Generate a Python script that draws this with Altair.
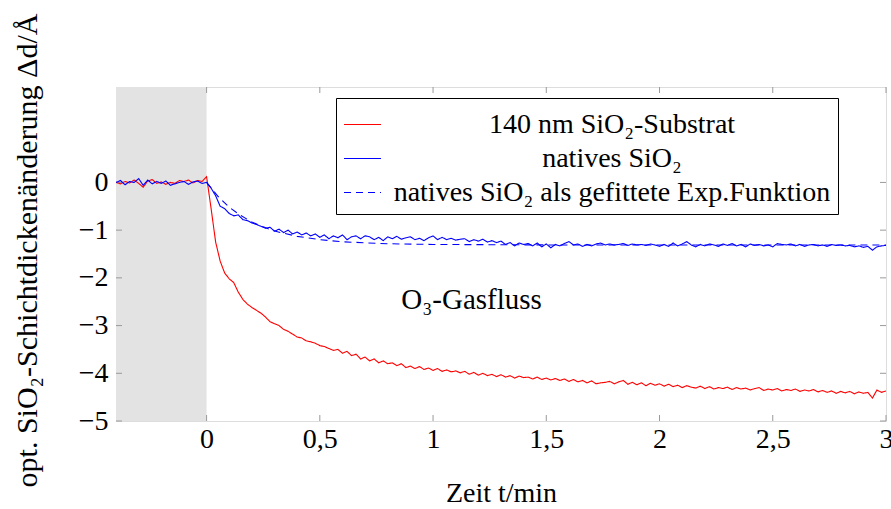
import altair as alt
import pandas as pd

# ---- data ----
t_min = [-0.40, -0.38, -0.36, -0.34, -0.32, -0.30, -0.28, -0.26, -0.24, -0.22,
         -0.20, -0.18, -0.16, -0.14, -0.12, -0.10, -0.08, -0.06, -0.04, -0.02,
         0.00, 0.02, 0.04, 0.06, 0.08, 0.10, 0.12, 0.14, 0.16, 0.18,
         0.20, 0.22, 0.24, 0.26, 0.28, 0.30, 0.32, 0.34, 0.36, 0.38,
         0.40, 0.42, 0.44, 0.46, 0.48, 0.50, 0.52, 0.54, 0.56, 0.58,
         0.60, 0.62, 0.64, 0.66, 0.68, 0.70, 0.72, 0.74, 0.76, 0.78,
         0.80, 0.82, 0.84, 0.86, 0.88, 0.90, 0.92, 0.94, 0.96, 0.98,
         1.00, 1.02, 1.04, 1.06, 1.08, 1.10, 1.12, 1.14, 1.16, 1.18,
         1.20, 1.22, 1.24, 1.26, 1.28, 1.30, 1.32, 1.34, 1.36, 1.38,
         1.40, 1.42, 1.44, 1.46, 1.48, 1.50, 1.52, 1.54, 1.56, 1.58,
         1.60, 1.62, 1.64, 1.66, 1.68, 1.70, 1.72, 1.74, 1.76, 1.78,
         1.80, 1.82, 1.84, 1.86, 1.88, 1.90, 1.92, 1.94, 1.96, 1.98,
         2.00, 2.02, 2.04, 2.06, 2.08, 2.10, 2.12, 2.14, 2.16, 2.18,
         2.20, 2.22, 2.24, 2.26, 2.28, 2.30, 2.32, 2.34, 2.36, 2.38,
         2.40, 2.42, 2.44, 2.46, 2.48, 2.50, 2.52, 2.54, 2.56, 2.58,
         2.60, 2.62, 2.64, 2.66, 2.68, 2.70, 2.72, 2.74, 2.76, 2.78,
         2.80, 2.82, 2.84, 2.86, 2.88, 2.90, 2.92, 2.94, 2.96, 2.98,
         3.00]

substrat_140nm = [0.00, -0.03, 0.02, -0.01, 0.05, -0.02, -0.10, 0.03, 0.06, -0.02,
                  0.01, -0.04, 0.00, -0.02, 0.04, 0.02, 0.05, -0.01, 0.04, 0.02,
                  0.12, -0.55, -1.25, -1.65, -1.90, -2.02, -2.10, -2.30, -2.45, -2.55,
                  -2.62, -2.68, -2.74, -2.82, -2.92, -2.96, -3.00, -3.08, -3.12, -3.18,
                  -3.24, -3.26, -3.32, -3.34, -3.37, -3.42, -3.44, -3.48, -3.52, -3.50,
                  -3.58, -3.54, -3.63, -3.60, -3.70, -3.66, -3.74, -3.70, -3.78, -3.74,
                  -3.80, -3.78, -3.84, -3.80, -3.88, -3.85, -3.90, -3.86, -3.92, -3.89,
                  -3.94, -3.90, -3.96, -3.93, -3.97, -3.95, -3.99, -3.96, -4.02, -3.98,
                  -4.04, -4.00, -4.05, -4.02, -4.07, -4.03, -4.08, -4.05, -4.10, -4.06,
                  -4.09, -4.08, -4.12, -4.08, -4.13, -4.10, -4.14, -4.11, -4.15, -4.12,
                  -4.17, -4.13, -4.18, -4.15, -4.20, -4.16, -4.22, -4.20, -4.19, -4.17,
                  -4.22, -4.18, -4.15, -4.23, -4.19, -4.24, -4.20, -4.26, -4.21, -4.25,
                  -4.22, -4.27, -4.23, -4.28, -4.25, -4.30, -4.26, -4.29, -4.31, -4.27,
                  -4.32, -4.28, -4.33, -4.30, -4.32, -4.29, -4.34, -4.30, -4.33, -4.31,
                  -4.35, -4.32, -4.30, -4.36, -4.33, -4.35, -4.32, -4.37, -4.34, -4.36,
                  -4.33, -4.38, -4.35, -4.37, -4.34, -4.39, -4.36, -4.40, -4.37, -4.42,
                  -4.38, -4.41, -4.38, -4.43, -4.39, -4.42, -4.40, -4.52, -4.35, -4.40,
                  -4.37]

natives_sio2 = [0.00, 0.04, -0.05, 0.02, 0.00, 0.08, -0.06, 0.05, -0.03, 0.02,
                -0.02, 0.03, -0.06, -0.03, 0.00, 0.02, -0.04, 0.01, 0.03, -0.02,
                0.00, -0.12, -0.28, -0.50, -0.55, -0.65, -0.70, -0.68, -0.78, -0.80,
                -0.85, -0.88, -0.92, -0.96, -0.94, -1.02, -0.98, -1.05, -1.00, -1.08,
                -1.04, -1.10, -1.06, -1.12, -1.08, -1.15, -1.10, -1.18, -1.12, -1.16,
                -1.10, -1.20, -1.14, -1.12, -1.18, -1.12, -1.14, -1.20, -1.15, -1.22,
                -1.14, -1.18, -1.13, -1.19, -1.16, -1.14, -1.20, -1.17, -1.22, -1.16,
                -1.12, -1.20, -1.15, -1.20, -1.17, -1.21, -1.19, -1.18, -1.24, -1.20,
                -1.23, -1.19, -1.25, -1.22, -1.26, -1.23, -1.30, -1.26, -1.33, -1.27,
                -1.30, -1.28, -1.33, -1.27, -1.35, -1.29, -1.37, -1.30, -1.33, -1.28,
                -1.24, -1.31, -1.29, -1.34, -1.30, -1.33, -1.29, -1.27, -1.31, -1.29,
                -1.31, -1.30, -1.28, -1.32, -1.29, -1.31, -1.30, -1.32, -1.29, -1.31,
                -1.34, -1.30, -1.34, -1.27, -1.33, -1.29, -1.24, -1.31, -1.35, -1.30,
                -1.33, -1.29, -1.31, -1.34, -1.29, -1.32, -1.28, -1.33, -1.30, -1.35,
                -1.29, -1.32, -1.30, -1.33, -1.31, -1.35, -1.28, -1.30, -1.31, -1.29,
                -1.33, -1.30, -1.34, -1.31, -1.30, -1.33, -1.31, -1.34, -1.30, -1.32,
                -1.31, -1.33, -1.32, -1.35, -1.33, -1.36, -1.34, -1.42, -1.35, -1.33,
                -1.32]

fit_t = [0.00, 0.05, 0.10, 0.15, 0.20, 0.25, 0.30, 0.40, 0.50, 0.60, 0.80, 1.00, 1.50, 2.00, 2.50, 3.00]
fit_values = [0.00, -0.29, -0.52, -0.69, -0.83, -0.93, -1.02, -1.13, -1.20, -1.245, -1.285, -1.30, -1.31, -1.31, -1.31, -1.31]

series_names = ["140 nm SiO\u2082-Substrat", "natives SiO\u2082",
                "natives SiO\u2082 als gefittete Exp.Funktion"]
series_colors = ["#ff0000", "#0000ff", "#0000ff"]
series_dashes = [[1, 0], [1, 0], [7, 5]]

shade_start = [-0.4]
shade_end = [0.0]
x_tick_values = [0, 0.5, 1, 1.5, 2, 2.5, 3]
y_tick_values = [-5, -4, -3, -2, -1, 0]

note_text = ["O\u2083-Gasfluss"]
note_x = [1.17]
note_y = [-2.46]

# ---- build tables ----
rows = []
for t, v in zip(t_min, substrat_140nm):
    rows.append({"t": t, "d": v, "series": series_names[0]})
for t, v in zip(t_min, natives_sio2):
    rows.append({"t": t, "d": v, "series": series_names[1]})
for t, v in zip(fit_t, fit_values):
    rows.append({"t": t, "d": v, "series": series_names[2]})
lines_df = pd.DataFrame(rows)

shade_df = pd.DataFrame({"t": shade_start, "t2": shade_end, "d": [-5], "d2": [2]})
xt_df = pd.DataFrame({"t": x_tick_values})
yt_df = pd.DataFrame({"d": y_tick_values})
note_df = pd.DataFrame({"t": note_x, "d": note_y, "label": note_text})

W, H = 770, 334
FONT = "Times New Roman, Liberation Serif, DejaVu Serif, serif"
xscale = alt.Scale(domain=[-0.4, 3], nice=False, zero=False)
yscale = alt.Scale(domain=[-5, 2], nice=False, zero=False)

x_axis = alt.Axis(values=x_tick_values, ticks=False, domain=False, grid=False,
                  labelExpr="replace(format(datum.value, '~g'), '.', ',')",
                  labelFont=FONT, labelFontSize=28, labelColor="black",
                  labelPadding=4, labelFlush=False,
                  title="Zeit t/min", titleFont=FONT, titleFontSize=28,
                  titleFontWeight="normal", titleColor="black",
                  titleBaseline="alphabetic", titleY=80)
y_axis = alt.Axis(values=y_tick_values, ticks=False, domain=False, grid=False,
                  labelFont=FONT, labelFontSize=28, labelColor="black",
                  labelPadding=8,
                  title="opt. SiO\u2082-Schichtdickenänderung \u0394d/Å",
                  titleFont=FONT, titleFontSize=30, titleFontWeight="normal",
                  titleColor="black", titleBaseline="alphabetic",
                  titleX=-80, titleY=H / 2 - 4)


def make_legend():
    return alt.Legend(
        title=None, orient="none", legendX=220, legendY=11, direction="vertical",
        strokeColor="black", fillColor="white", padding=7,
        symbolType="stroke", symbolSize=1369, symbolStrokeWidth=1.1,
        labelFont=FONT, labelFontSize=28, labelColor="black",
        labelAlign="center", labelOffset=230, labelLimit=0, rowPadding=-3,
    )


shade = alt.Chart(shade_df).mark_rect(color="#e3e3e3").encode(
    x=alt.X("t:Q", scale=xscale, axis=x_axis),
    x2="t2:Q",
    y=alt.Y("d:Q", scale=yscale, axis=y_axis),
    y2="d2:Q",
)

tick_color = "#9a9a9a"
xt_bottom = alt.Chart(xt_df).mark_rule(color=tick_color, strokeWidth=1).encode(
    x=alt.X("t:Q", scale=xscale), y=alt.value(H), y2=alt.value(H - 6))
xt_top = alt.Chart(xt_df).mark_rule(color=tick_color, strokeWidth=1).encode(
    x=alt.X("t:Q", scale=xscale), y=alt.value(0), y2=alt.value(6))
yt_left = alt.Chart(yt_df).mark_rule(color=tick_color, strokeWidth=1).encode(
    y=alt.Y("d:Q", scale=yscale), x=alt.value(0), x2=alt.value(6))
yt_right = alt.Chart(yt_df).mark_rule(color=tick_color, strokeWidth=1).encode(
    y=alt.Y("d:Q", scale=yscale), x=alt.value(W), x2=alt.value(W - 6))

lines = alt.Chart(lines_df).mark_line(strokeWidth=1.1, clip=True).encode(
    x=alt.X("t:Q", scale=xscale),
    y=alt.Y("d:Q", scale=yscale),
    color=alt.Color("series:N",
                    scale=alt.Scale(domain=series_names, range=series_colors),
                    legend=make_legend()),
    strokeDash=alt.StrokeDash("series:N",
                              scale=alt.Scale(domain=series_names, range=series_dashes),
                              legend=make_legend()),
    detail="series:N",
    order="t:Q",
)

note = alt.Chart(note_df).mark_text(font=FONT, fontSize=29, color="black",
                                    align="center", baseline="middle").encode(
    x=alt.X("t:Q", scale=xscale),
    y=alt.Y("d:Q", scale=yscale),
    text="label:N",
)

chart = alt.layer(shade, xt_bottom, xt_top, yt_left, yt_right, lines, note).properties(
    width=W, height=H,
    autosize=alt.AutoSizeParams(type="none"),
    padding={"left": 116, "top": 87, "right": 5, "bottom": 88},
).configure_view(
    stroke="black", strokeWidth=1.2
).configure(background="white")

chart.save("out.html", embed_options={"renderer": "svg", "actions": False})
